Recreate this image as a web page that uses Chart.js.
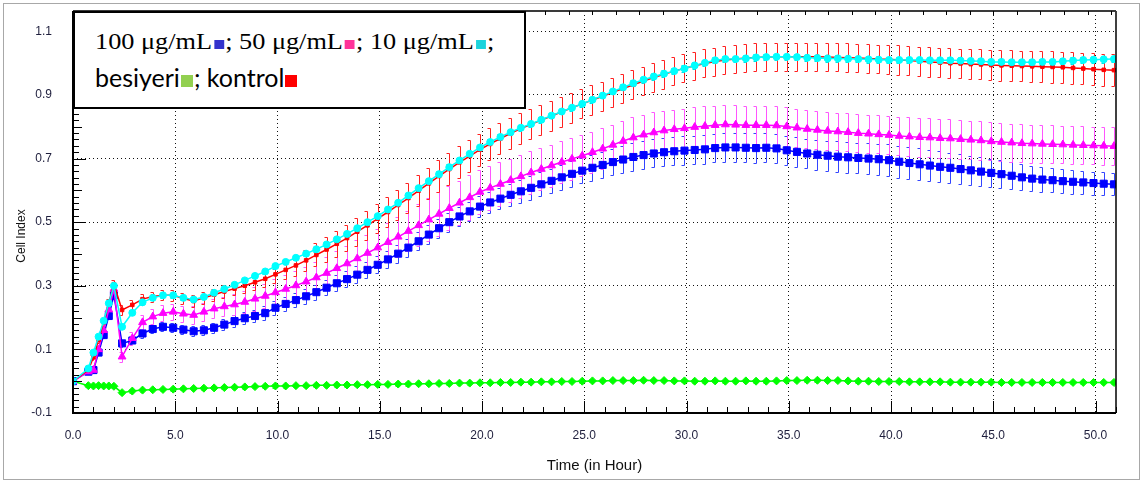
<!DOCTYPE html>
<html>
<head>
<meta charset="utf-8">
<script src="https://cdn.jsdelivr.net/npm/chart.js@4.4.1/dist/chart.umd.min.js"></script>
<style>
  html, body { margin: 0; padding: 0; background: #fff; }
  #wrap { position: relative; width: 1144px; height: 481px; overflow: hidden; }
  #c { position: absolute; left: 0; top: 0; }
  #legend { position: absolute; left: 73px; top: 11px; width: 453px; height: 98px; box-sizing: border-box;
            border: 2px solid #000; background: #fff; color: #000; }
  #legend .l1 { position: absolute; left: 20px; top: 16px; white-space: nowrap;
                font-family: "Liberation Serif", serif; font-size: 24px; line-height: 24px;
                transform: scaleX(1.095); transform-origin: 0 50%; }
  #legend .l2 { position: absolute; left: 20px; top: 52px; white-space: nowrap;
                font-family: "Lato", sans-serif; font-size: 25px; line-height: 24px; }
  #legend .sq1 { display: inline-block; width: 9px; height: 9px; margin: 0 1px 0 2px; }
  #legend .sq2 { display: inline-block; width: 12px; height: 12px; margin: 0 1px 0 1px; }
</style>
</head>
<body>
<div id="wrap">
  <canvas id="c" width="1144" height="481"></canvas>
  <div id="legend"><div class="l1" id="l1"></div><div class="l2" id="l2"></div></div>
</div>
<script>
// ---------------- DATA ----------------
const seriesNames = ['100 μg/mL', '50 μg/mL', '10 μg/mL', 'besiyeri', 'kontrol'];

const xTickValues = [0, 5, 10, 15, 20, 25, 30, 35, 40, 45, 50];
const xTickLabels = ['0.0', '5.0', '10.0', '15.0', '20.0', '25.0', '30.0', '35.0', '40.0', '45.0', '50.0'];
const yTickValues = [-0.1, 0.1, 0.3, 0.5, 0.7, 0.9, 1.1];
const yTickLabels = ['-0.1', '0.1', '0.3', '0.5', '0.7', '0.9', '1.1'];

const times = [
  0, 0.75, 1, 1.25, 1.5, 1.75, 2,
  2.4, 2.9, 3.4, 3.9, 4.4, 4.9, 5.4, 5.9, 6.4, 6.9,
  7.4, 7.9, 8.4, 8.9, 9.4, 9.9, 10.4, 10.9, 11.4, 11.9,
  12.4, 12.9, 13.4, 13.9, 14.4, 14.9, 15.4, 15.9, 16.4, 16.9,
  17.4, 17.9, 18.4, 18.9, 19.4, 19.9, 20.4, 20.9, 21.4, 21.9,
  22.4, 22.9, 23.4, 23.9, 24.4, 24.9, 25.4, 25.9, 26.4, 26.9,
  27.4, 27.9, 28.4, 28.9, 29.4, 29.9, 30.4, 30.9, 31.4, 31.9,
  32.4, 32.9, 33.4, 33.9, 34.4, 34.9, 35.4, 35.9, 36.4, 36.9,
  37.4, 37.9, 38.4, 38.9, 39.4, 39.9, 40.4, 40.9, 41.4, 41.9,
  42.4, 42.9, 43.4, 43.9, 44.4, 44.9, 45.4, 45.9, 46.4, 46.9,
  47.4, 47.9, 48.4, 48.9, 49.4, 49.9, 50.4, 50.9
];

const kontrol = [
  0, 0.035, 0.075, 0.13, 0.185, 0.245, 0.305,
  0.224, 0.240, 0.258, 0.266, 0.270, 0.270, 0.260, 0.252, 0.262, 0.272,
  0.282, 0.291, 0.300, 0.311, 0.322, 0.336, 0.350, 0.364, 0.380, 0.397,
  0.414, 0.432, 0.450, 0.470, 0.490, 0.511, 0.532, 0.554, 0.576, 0.599,
  0.622, 0.645, 0.667, 0.688, 0.708, 0.728, 0.746, 0.763, 0.779, 0.794,
  0.808, 0.821, 0.834, 0.847, 0.860, 0.872, 0.884, 0.896, 0.908, 0.920,
  0.932, 0.944, 0.955, 0.965, 0.975, 0.984, 0.992, 0.999, 1.005, 1.010,
  1.013, 1.016, 1.018, 1.019, 1.020, 1.020, 1.020, 1.020, 1.020, 1.019,
  1.018, 1.017, 1.016, 1.015, 1.013, 1.012, 1.010, 1.008, 1.006, 1.004,
  1.002, 1.000, 0.999, 0.997, 0.996, 0.994, 0.993, 0.992, 0.991, 0.990,
  0.989, 0.988, 0.987, 0.985, 0.983, 0.981, 0.979, 0.978
];
const dose10 = [
  0, 0.04, 0.09, 0.14, 0.19, 0.245, 0.30,
  0.171, 0.215, 0.248, 0.262, 0.270, 0.270, 0.262, 0.257, 0.265, 0.278,
  0.290, 0.303, 0.317, 0.331, 0.345, 0.362, 0.375, 0.388, 0.401, 0.415,
  0.430, 0.446, 0.463, 0.481, 0.500, 0.519, 0.540, 0.561, 0.584, 0.607,
  0.629, 0.651, 0.673, 0.694, 0.715, 0.735, 0.752, 0.768, 0.783, 0.797,
  0.809, 0.822, 0.835, 0.848, 0.860, 0.872, 0.885, 0.898, 0.911, 0.924,
  0.937, 0.948, 0.958, 0.967, 0.975, 0.983, 0.993, 1.001, 1.009, 1.013,
  1.013, 1.015, 1.018, 1.019, 1.020, 1.020, 1.019, 1.017, 1.016, 1.015,
  1.015, 1.014, 1.013, 1.012, 1.011, 1.010, 1.010, 1.010, 1.010, 1.009,
  1.009, 1.009, 1.008, 1.007, 1.006, 1.004, 1.004, 1.003, 1.003, 1.003,
  1.004, 1.004, 1.006, 1.008, 1.010, 1.011, 1.012, 1.013
];
const dose50 = [
  0, 0.03, 0.035, 0.10, 0.16, 0.225, 0.29,
  0.077, 0.135, 0.185, 0.203, 0.214, 0.218, 0.212, 0.208, 0.218, 0.228,
  0.235, 0.241, 0.249, 0.259, 0.268, 0.279, 0.290, 0.301, 0.313, 0.326,
  0.340, 0.355, 0.370, 0.386, 0.403, 0.420, 0.437, 0.454, 0.472, 0.490,
  0.508, 0.526, 0.544, 0.561, 0.578, 0.595, 0.608, 0.620, 0.632, 0.644,
  0.656, 0.667, 0.678, 0.689, 0.699, 0.709, 0.720, 0.731, 0.743, 0.755,
  0.766, 0.775, 0.782, 0.788, 0.792, 0.795, 0.799, 0.802, 0.805, 0.807,
  0.806, 0.805, 0.805, 0.805, 0.804, 0.801, 0.797, 0.793, 0.790, 0.787,
  0.785, 0.783, 0.780, 0.778, 0.776, 0.774, 0.771, 0.769, 0.767, 0.766,
  0.764, 0.763, 0.761, 0.759, 0.757, 0.754, 0.752, 0.750, 0.748, 0.747,
  0.746, 0.745, 0.744, 0.743, 0.742, 0.741, 0.740, 0.739
];
const dose100 = [
  0, 0.03, 0.035, 0.09, 0.145, 0.205, 0.27,
  0.119, 0.128, 0.150, 0.164, 0.171, 0.168, 0.162, 0.157, 0.160, 0.168,
  0.178, 0.189, 0.198, 0.205, 0.214, 0.231, 0.243, 0.255, 0.267, 0.280,
  0.294, 0.308, 0.321, 0.335, 0.350, 0.366, 0.383, 0.401, 0.420, 0.440,
  0.461, 0.481, 0.500, 0.518, 0.534, 0.549, 0.562, 0.574, 0.586, 0.597,
  0.608, 0.619, 0.630, 0.641, 0.652, 0.662, 0.671, 0.680, 0.689, 0.697,
  0.705, 0.711, 0.716, 0.720, 0.723, 0.725, 0.727, 0.729, 0.733, 0.735,
  0.735, 0.734, 0.733, 0.734, 0.732, 0.726, 0.721, 0.716, 0.712, 0.709,
  0.706, 0.704, 0.702, 0.700, 0.698, 0.695, 0.690, 0.686, 0.682, 0.678,
  0.674, 0.671, 0.667, 0.663, 0.659, 0.655, 0.651, 0.646, 0.641, 0.637,
  0.634, 0.632, 0.629, 0.627, 0.625, 0.623, 0.621, 0.619
];
const besiyeri = [
  0, -0.014, -0.015, -0.014, -0.015, -0.015, -0.016,
  -0.036, -0.031, -0.028, -0.027, -0.026, -0.025, -0.024, -0.023, -0.022, -0.021,
  -0.020, -0.019, -0.018, -0.017, -0.016, -0.015, -0.015, -0.014, -0.014, -0.013,
  -0.013, -0.012, -0.012, -0.011, -0.011, -0.010, -0.010, -0.009, -0.009, -0.008,
  -0.008, -0.007, -0.007, -0.006, -0.006, -0.005, -0.005, -0.004, -0.004, -0.003,
  -0.003, -0.002, -0.002, -0.001, -0.001, 0.000, 0.001, 0.001, 0.002, 0.002,
  0.002, 0.003, 0.002, 0.002, 0.001, 0.001, 0.000, 0.000, 0.001, 0.000,
  0.000, 0.001, 0.000, 0.000, 0.001, 0.002, 0.002, 0.003, 0.003, 0.002,
  0.002, 0.001, 0.000, 0.000, -0.001, -0.001, -0.001, -0.002, -0.002, -0.002,
  -0.002, -0.003, -0.003, -0.003, -0.003, -0.003, -0.004, -0.004, -0.004, -0.004,
  -0.004, -0.004, -0.004, -0.004, -0.004, -0.004, -0.004, -0.004
];

// standard deviations (error bar half-lengths)
const kontrolErr = [
  0.004, 0.006, 0.008, 0.010, 0.010, 0.012, 0.012,
  0.015, 0.015, 0.015, 0.016, 0.016, 0.017, 0.017, 0.018, 0.018, 0.019,
  0.020, 0.021, 0.022, 0.024, 0.026, 0.028, 0.030, 0.032, 0.034, 0.036,
  0.038, 0.040, 0.042, 0.044, 0.045, 0.046, 0.047, 0.048, 0.048, 0.049,
  0.049, 0.050, 0.050, 0.050, 0.050, 0.050, 0.049, 0.049, 0.049, 0.048,
  0.048, 0.048, 0.047, 0.047, 0.047, 0.046, 0.046, 0.046, 0.046, 0.045,
  0.045, 0.045, 0.045, 0.045, 0.044, 0.044, 0.044, 0.044, 0.044, 0.044,
  0.044, 0.044, 0.044, 0.044, 0.044, 0.044, 0.044, 0.044, 0.044, 0.044,
  0.044, 0.045, 0.045, 0.045, 0.045, 0.045, 0.046, 0.046, 0.046, 0.046,
  0.046, 0.047, 0.047, 0.047, 0.047, 0.048, 0.048, 0.048, 0.048, 0.048,
  0.049, 0.049, 0.049, 0.049, 0.050, 0.050, 0.050, 0.050
];
const dose50Err = [
  0.004, 0.005, 0.006, 0.008, 0.010, 0.012, 0.014,
  0.016, 0.020, 0.022, 0.024, 0.025, 0.026, 0.026, 0.027, 0.028, 0.030,
  0.031, 0.033, 0.035, 0.037, 0.039, 0.041, 0.043, 0.045, 0.047, 0.049,
  0.051, 0.053, 0.055, 0.057, 0.058, 0.059, 0.060, 0.062, 0.064, 0.066,
  0.067, 0.068, 0.069, 0.070, 0.070, 0.070, 0.070, 0.069, 0.068, 0.068,
  0.067, 0.067, 0.066, 0.066, 0.066, 0.065, 0.065, 0.065, 0.064, 0.064,
  0.064, 0.063, 0.063, 0.063, 0.062, 0.062, 0.062, 0.062, 0.061, 0.061,
  0.061, 0.061, 0.060, 0.060, 0.060, 0.060, 0.060, 0.059, 0.059, 0.059,
  0.059, 0.059, 0.060, 0.060, 0.060, 0.060, 0.061, 0.061, 0.061, 0.061,
  0.061, 0.061, 0.061, 0.060, 0.060, 0.060, 0.060, 0.060, 0.060, 0.060,
  0.060, 0.060, 0.059, 0.059, 0.059, 0.059, 0.059, 0.059
];
const dose100Err = [
  0.004, 0.005, 0.006, 0.007, 0.008, 0.009, 0.010,
  0.012, 0.012, 0.013, 0.013, 0.014, 0.014, 0.015, 0.015, 0.016, 0.016,
  0.017, 0.018, 0.019, 0.020, 0.021, 0.022, 0.022, 0.023, 0.023, 0.024,
  0.024, 0.025, 0.025, 0.026, 0.026, 0.027, 0.027, 0.028, 0.028, 0.029,
  0.029, 0.030, 0.030, 0.031, 0.031, 0.032, 0.033, 0.034, 0.035, 0.036,
  0.037, 0.038, 0.038, 0.039, 0.040, 0.040, 0.041, 0.041, 0.042, 0.042,
  0.043, 0.043, 0.044, 0.044, 0.044, 0.045, 0.045, 0.045, 0.045, 0.045,
  0.045, 0.045, 0.046, 0.046, 0.046, 0.046, 0.047, 0.047, 0.047, 0.047,
  0.048, 0.048, 0.048, 0.049, 0.049, 0.050, 0.050, 0.050, 0.050, 0.050,
  0.049, 0.048, 0.047, 0.046, 0.045, 0.044, 0.043, 0.042, 0.041, 0.040,
  0.039, 0.038, 0.038, 0.037, 0.037, 0.036, 0.036, 0.035
];
const dose10Err = [
  0.003, 0.004, 0.005, 0.005, 0.006, 0.006, 0.007,
  0.007, 0.007, 0.007, 0.007, 0.007, 0.007, 0.007, 0.007, 0.007, 0.007,
  0.007, 0.007, 0.008, 0.008, 0.008, 0.008, 0.008, 0.008, 0.008, 0.008,
  0.008, 0.008, 0.008, 0.008, 0.008, 0.008, 0.008, 0.008, 0.008, 0.008,
  0.009, 0.009, 0.009, 0.009, 0.009, 0.009, 0.009, 0.009, 0.009, 0.009,
  0.009, 0.009, 0.009, 0.009, 0.009, 0.009, 0.009, 0.009, 0.009, 0.009,
  0.009, 0.009, 0.010, 0.010, 0.010, 0.010, 0.010, 0.010, 0.010, 0.010,
  0.010, 0.010, 0.010, 0.010, 0.010, 0.010, 0.010, 0.010, 0.010, 0.010,
  0.010, 0.010, 0.010, 0.010, 0.010, 0.010, 0.010, 0.010, 0.010, 0.010,
  0.010, 0.010, 0.010, 0.010, 0.010, 0.010, 0.010, 0.010, 0.010, 0.010,
  0.010, 0.010, 0.010, 0.010, 0.010, 0.010, 0.010, 0.010
];
const besiyeriErr = [
  0.002, 0.003, 0.004, 0.004, 0.004, 0.004, 0.004,
  0.005, 0.005, 0.005, 0.005, 0.005, 0.005, 0.005, 0.005, 0.005, 0.005,
  0.005, 0.005, 0.005, 0.005, 0.005, 0.005, 0.005, 0.005, 0.005, 0.005,
  0.005, 0.005, 0.005, 0.005, 0.005, 0.005, 0.005, 0.005, 0.005, 0.005,
  0.005, 0.005, 0.005, 0.005, 0.005, 0.005, 0.005, 0.005, 0.005, 0.005,
  0.005, 0.005, 0.005, 0.005, 0.005, 0.005, 0.005, 0.005, 0.005, 0.005,
  0.005, 0.005, 0.005, 0.005, 0.005, 0.005, 0.005, 0.005, 0.005, 0.005,
  0.005, 0.005, 0.005, 0.005, 0.005, 0.005, 0.005, 0.005, 0.005, 0.005,
  0.005, 0.005, 0.005, 0.005, 0.005, 0.005, 0.005, 0.005, 0.005, 0.005,
  0.005, 0.005, 0.005, 0.005, 0.005, 0.005, 0.005, 0.005, 0.005, 0.005,
  0.005, 0.005, 0.005, 0.005, 0.005, 0.005, 0.005, 0.005
];

// ---------------- LEGEND (HTML text) ----------------
const legendColors = ['#3333cc', '#ff3399', '#1cd3dc', '#92d050', '#ff0000'];
document.getElementById('l1').innerHTML =
  [0, 1, 2].map(i => seriesNames[i] + '<span class="sq1" style="background:' + legendColors[i] + '"></span>;').join(' ');
document.getElementById('l2').innerHTML =
  [3, 4].map(i => seriesNames[i] + '<span class="sq2" style="background:' + legendColors[i] + '"></span>').join('; ');

// ---------------- CHART ----------------
const pts = arr => times.map((t, i) => ({ x: t, y: arr[i] }));

function mkSet(label, values, errs, color, errColor, style, radius, order, bw) {
  return {
    label, data: pts(values), errors: errs, errorColor: errColor,
    borderColor: color, backgroundColor: color, borderWidth: bw,
    pointStyle: style, pointRadius: radius, pointBorderWidth: 1,
    pointBackgroundColor: color, pointBorderColor: color,
    tension: 0, order
  };
}

const datasets = [
  mkSet(seriesNames[3], besiyeri, besiyeriErr, '#00ff00', '#33ff33', 'rectRot', 4, 5, 1.5),
  mkSet(seriesNames[0], dose100, dose100Err, '#0000ff', '#3344ff', 'rect', 5, 4, 1.5),
  mkSet(seriesNames[1], dose50, dose50Err, '#ff00ff', '#ff55ff', 'triangle', 4.5, 3, 1.5),
  mkSet(seriesNames[4], kontrol, kontrolErr, '#ff0000', '#ff2020', 'rect', 2.5, 2, 1.5),
  mkSet(seriesNames[2], dose10, dose10Err, '#00ffff', '#00e0e0', 'circle', 3.5, 1, 1.5)
];

const tickColor = '#1e1e3c';

const errorBars = {
  id: 'errorBars',
  beforeDatasetsDraw(chart) {
    const { ctx, chartArea: a } = chart;
    const xs = chart.scales.x, ys = chart.scales.y;
    ctx.save();
    ctx.beginPath(); ctx.rect(a.left, a.top, a.right - a.left, a.bottom - a.top); ctx.clip();
    ctx.lineWidth = 1;
    chart.data.datasets.forEach(ds => {
      ctx.strokeStyle = ds.errorColor;
      ctx.beginPath();
      ds.data.forEach((p, j) => {
        const e = ds.errors[j];
        const x = Math.round(xs.getPixelForValue(p.x)) + 0.5;
        const y1 = Math.round(ys.getPixelForValue(p.y + e)) + 0.5;
        const y2 = Math.round(ys.getPixelForValue(p.y - e)) + 0.5;
        ctx.moveTo(x, y1); ctx.lineTo(x, y2);
        ctx.moveTo(x - 3, y1); ctx.lineTo(x, y1);
        ctx.moveTo(x - 3, y2); ctx.lineTo(x, y2);
      });
      ctx.stroke();
    });
    ctx.restore();
  }
};

const frame = {
  id: 'frame',
  afterDatasetsDraw(chart) {
    const { ctx, chartArea: a } = chart;
    const xs = chart.scales.x, ys = chart.scales.y, xt = chart.scales.xTop;
    ctx.save();
    ctx.strokeStyle = '#000';
    ctx.lineWidth = 2;
    ctx.beginPath();
    ctx.moveTo(a.left, a.top); ctx.lineTo(a.left, a.bottom); ctx.lineTo(a.right, a.bottom);
    ctx.stroke();
    ctx.lineWidth = 1.5;
    ctx.beginPath(); ctx.moveTo(a.right, a.bottom); ctx.lineTo(a.right, a.top); ctx.stroke();
    ctx.strokeStyle = '#3a3a3a'; ctx.lineWidth = 2;
    ctx.beginPath(); ctx.moveTo(a.left, a.top); ctx.lineTo(a.right, a.top); ctx.stroke();
    ctx.strokeStyle = '#000'; ctx.lineWidth = 1;
    ctx.beginPath();
    for (let h = 1; h <= xs.max; h++) {
      const x = Math.round(xs.getPixelForValue(h)) + 0.5;
      const len = (h % 5 === 0) ? 12 : 6;
      ctx.moveTo(x, a.bottom); ctx.lineTo(x, a.bottom - len);
    }
    for (let k = 0; k <= 63; k++) {
      const v = -0.1 + k * 0.02;
      const y = Math.round(ys.getPixelForValue(v)) + 0.5;
      const len = (k % 10 === 0) ? 13 : (k % 5 === 0 ? 9 : 6);
      ctx.moveTo(a.left, y); ctx.lineTo(a.left + len, y);
    }
    for (let k = 1; k < xt.max; k++) {
      const x = Math.round(xt.getPixelForValue(k)) + 0.5;
      ctx.moveTo(x, a.top); ctx.lineTo(x, a.top + 4);
    }
    ctx.stroke();
    ctx.restore();
  },
  afterDraw(chart) {
    const { ctx, chartArea: a } = chart;
    ctx.save();
    ctx.strokeStyle = '#a8a8a8'; ctx.lineWidth = 1;
    ctx.strokeRect(3.5, 3.5, 1136, 476);
    ctx.fillStyle = '#101010';
    ctx.textAlign = 'center'; ctx.textBaseline = 'middle';
    ctx.font = '15px "Liberation Sans", Arial, sans-serif';
    ctx.fillText('Time (in Hour)', (a.left + a.right) / 2, 466);
    ctx.translate(22, 236); ctx.rotate(-Math.PI / 2);
    ctx.font = '12px "Liberation Sans", Arial, sans-serif';
    ctx.fillText('Cell Index', 0, 0);
    ctx.restore();
  }
};

new Chart(document.getElementById('c'), {
  type: 'line',
  data: { datasets },
  plugins: [errorBars, frame],
  options: {
    responsive: false, animation: false, devicePixelRatio: 1,
    layout: { padding: { left: 0, right: 28, top: 11, bottom: 0 } },
    plugins: { legend: { display: false }, tooltip: { enabled: false } },
    scales: {
      x: {
        type: 'linear', min: 0, max: 51.0,
        afterBuildTicks: s => { s.ticks = xTickValues.map(v => ({ value: v })); },
        afterFit: s => { s.height = 68; s.paddingLeft = 0; s.paddingRight = 0; },
        ticks: {
          callback: (v, i) => xTickLabels[i], autoSkip: false, maxRotation: 0,
          color: tickColor, font: { family: '"Liberation Sans", Arial, sans-serif', size: 12 }, padding: 15
        },
        grid: { color: '#111', lineWidth: 1, drawTicks: false },
        border: { display: false, dash: [1, 3] }
      },
      xTop: {
        type: 'linear', position: 'top', display: false, min: 0, max: 44.2
      },
      y: {
        type: 'linear', min: -0.1, max: 1.164,
        afterBuildTicks: s => { s.ticks = yTickValues.map(v => ({ value: v })); },
        afterFit: s => { s.width = 73; s.paddingTop = 0; s.paddingBottom = 0; },
        ticks: {
          callback: (v, i) => yTickLabels[i], autoSkip: false,
          color: tickColor, font: { family: '"Liberation Sans", Arial, sans-serif', size: 12 }, padding: 21
        },
        grid: { color: '#111', lineWidth: 1, drawTicks: false },
        border: { display: false, dash: [1, 3] }
      }
    }
  }
});
</script>
</body>
</html>
